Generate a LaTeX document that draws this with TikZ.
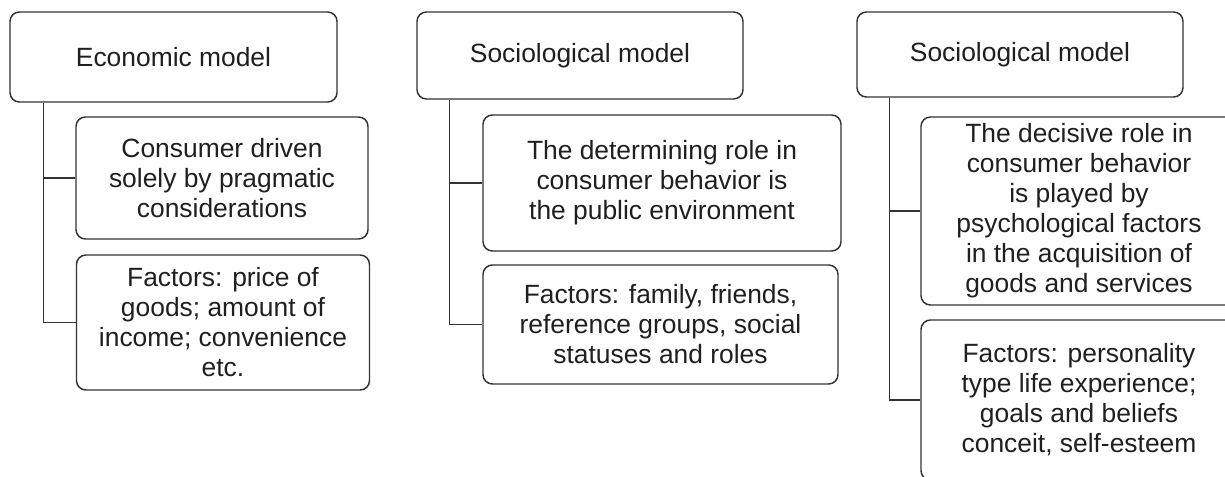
\documentclass[tikz,border=0pt]{standalone}
\usepackage{fontspec}
\setmainfont{Liberation Sans}
\usetikzlibrary{positioning,calc}

\begin{document}
\begin{tikzpicture}[x=0.75pt,y=-0.75pt,line width=1.1pt,
box/.style = {draw=black!80, rectangle, rounded corners=7pt, inner sep=0pt, align=center, text=black!88, font=\fontsize{19.8}{22.5}\selectfont},
]
\clip (0,0) rectangle (1225,477);
%Headers
\node (E) at (173.5,57)[box,minimum width=327*.75pt,minimum height=90*.75pt] {Economic model};
\node (S) at (580,55.5)[box,minimum width=326*.75pt,minimum height=87*.75pt] {Sociological model};
\node (P) at (1020,54.5)[box,minimum width=326*.75pt,minimum height=85*.75pt] {Sociological model};
%Boxes below each header
\node (E1) at (222,178)[box,minimum width=292*.75pt,minimum height=122*.75pt] {Consumer driven\\solely by pragmatic\\considerations};
\node (E2) at (223,322.5)[box,minimum width=293*.75pt,minimum height=135*.75pt] {Factors: price of\\goods; amount of\\income; convenience\\etc.};
\node (S1) at (662,183)[box,minimum width=358*.75pt,minimum height=136*.75pt] {The determining role in\\consumer behavior is\\the public environment};
\node (S2) at (660.5,324.5)[box,minimum width=355*.75pt,minimum height=119*.75pt] {Factors: family, friends,\\reference groups, social\\statuses and roles};
\node (P1) at (1079,211)[box,minimum width=316*.75pt,minimum height=188*.75pt] {The decisive role in\\consumer behavior\\is played by\\psychological factors\\in the acquisition of\\goods and services};
\node (P2) at (1079,400)[box,minimum width=316*.75pt,minimum height=160*.75pt] {Factors: personality\\type life experience;\\goals and beliefs\\conceit, self-esteem};
%Connectors
\coordinate (e) at ($(E.south west)+(34,0)$);
\coordinate (s) at ($(S.south west)+(33,0)$);
\coordinate (p) at ($(P.south west)+(33,0)$);
\draw[black!80] (e) |- (E1.west) (e) |- (E2.west);
\draw[black!80] (s) |- (S1.west) (s) |- (S2.west);
\draw[black!80] (p) |- (P1.west) (p) |- (P2.west);
\end{tikzpicture}
\end{document}
